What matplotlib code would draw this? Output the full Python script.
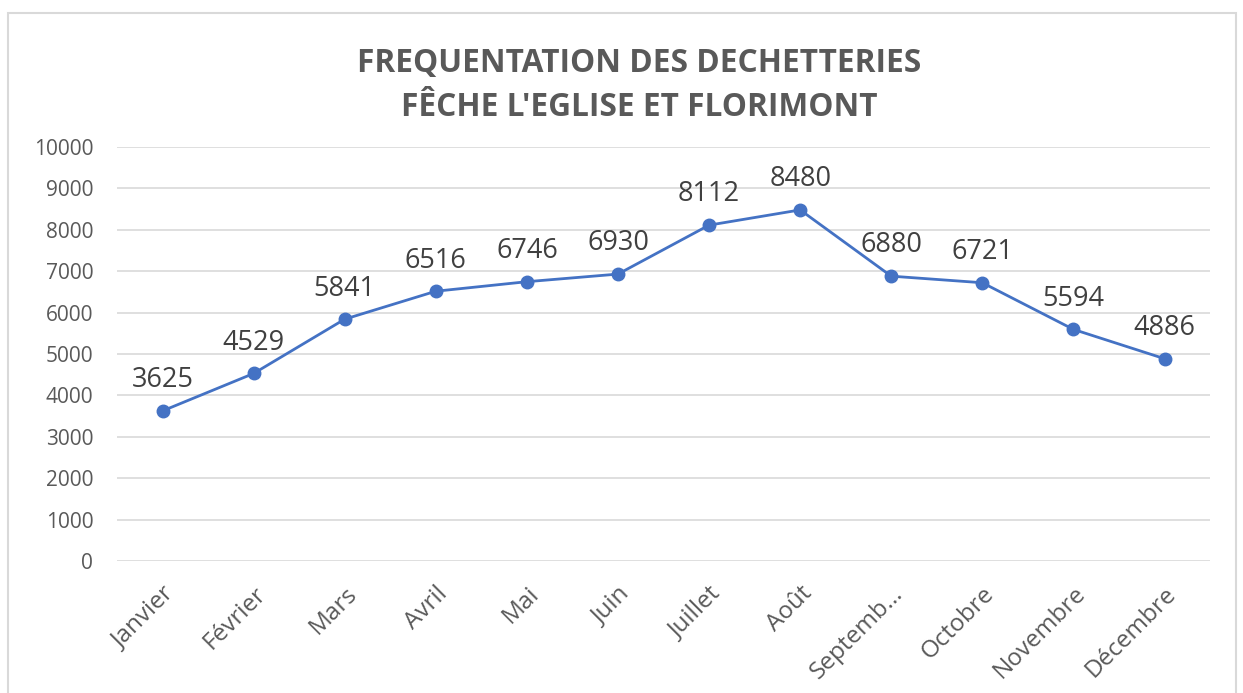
import matplotlib.pyplot as plt
from matplotlib.patches import Rectangle

mois = ["Janvier", "Février", "Mars", "Avril", "Mai", "Juin", "Juillet",
        "Août", "Septemb…", "Octobre", "Novembre", "Décembre"]
visites = [3625, 4529, 5841, 6516, 6746, 6930, 8112, 8480, 6880, 6721, 5594, 4886]
yticks = list(range(0, 10001, 1000))

plt.rcParams['font.family'] = ['Open Sans', 'DejaVu Sans']

fig = plt.figure(figsize=(12.43, 6.93), dpi=100)
ax = fig.add_axes([0.0941, 0.1905, 0.8794, 0.5974])

x = list(range(len(mois)))
ax.plot(x, visites, color='#4472C4', linewidth=2, marker='o', markersize=9)

for xi, v in zip(x, visites):
    ax.annotate(str(v), (xi, v), xytext=(0, 12), textcoords='offset points',
                ha='center', va='bottom', fontsize=19.5, color='#404040')

ax.set_xlim(-0.5, len(mois) - 0.5)
ax.set_ylim(0, 10000)
ax.set_yticks(yticks)
ax.set_xticks(x)
ax.set_xticklabels(mois, rotation=45, ha='right', va='top', rotation_mode='anchor')
ax.tick_params(axis='y', length=0, pad=17, labelsize=15, labelcolor='#595959')
ax.tick_params(axis='x', length=0, pad=15, labelsize=17.5, labelcolor='#595959')
ax.grid(axis='y', color='#D9D9D9', linewidth=1.2)
ax.set_axisbelow(True)
for s in ax.spines.values():
    s.set_visible(False)

fig.text(0.514, 0.877, "FREQUENTATION DES DECHETTERIES\nFÊCHE L'EGLISE ET FLORIMONT",
         ha='center', va='center', fontsize=22.8, fontweight='bold', color='#595959',
         linespacing=1.45)

fig.patches.append(Rectangle((8 / 1243, -0.02), 1228 / 1243, 1.001,
                             transform=fig.transFigure, fill=False,
                             edgecolor='#D9D9D9', linewidth=1.5))

fig.savefig('out.png', dpi=100)
